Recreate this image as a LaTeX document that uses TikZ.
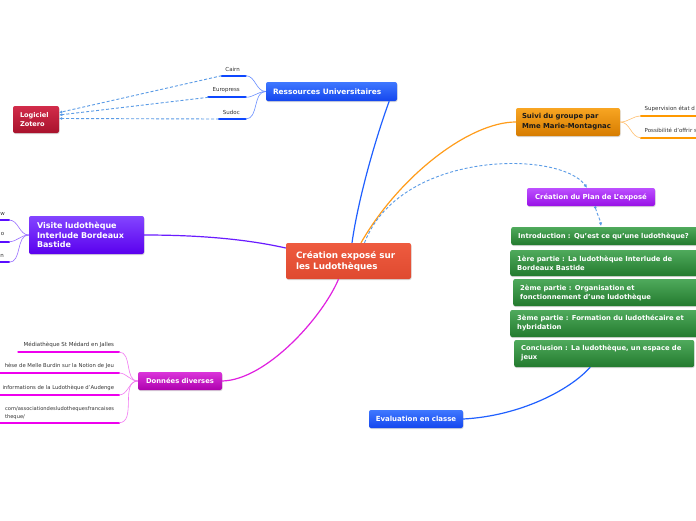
\documentclass[tikz,border=0pt]{standalone}
\usepackage{fontspec}
\setmainfont{DejaVu Sans}
\usetikzlibrary{shadows,arrows.meta}
\definecolor{cenT}{HTML}{EE5B3F}
\definecolor{cenB}{HTML}{DF4A30}
\definecolor{resT}{HTML}{3F78FF}
\definecolor{resB}{HTML}{1446EE}
\definecolor{zotT}{HTML}{D22C4A}
\definecolor{zotB}{HTML}{A8122C}
\definecolor{visT}{HTML}{8345FF}
\definecolor{visB}{HTML}{5A00EE}
\definecolor{donT}{HTML}{DA35DA}
\definecolor{donB}{HTML}{AE00AE}
\definecolor{suiT}{HTML}{F8A522}
\definecolor{suiB}{HTML}{D67C00}
\definecolor{suiText}{HTML}{1A1A1A}
\definecolor{plaT}{HTML}{BC50FF}
\definecolor{plaB}{HTML}{9810E6}
\definecolor{grnT}{HTML}{4FAA5C}
\definecolor{grnB}{HTML}{237A2E}
\definecolor{itemC}{HTML}{333333}
\definecolor{resLine}{HTML}{0D47FF}
\definecolor{resSub}{HTML}{6A8FFF}
\definecolor{visLine}{HTML}{5B0EFF}
\definecolor{visSub}{HTML}{9A70FF}
\definecolor{donLine}{HTML}{EE00EE}
\definecolor{donSub}{HTML}{F27AF2}
\definecolor{suiLine}{HTML}{FF9900}
\definecolor{suiSub}{HTML}{FFC070}
\definecolor{dashC}{HTML}{5A9BE6}
\definecolor{mainRes}{HTML}{2060FF}
\definecolor{mainVis}{HTML}{6A1CFF}
\definecolor{mainDon}{HTML}{E020E0}
\definecolor{mainSui}{HTML}{FF9C1A}
\newcommand\fsz[2]{\fontsize{#1}{#2}\selectfont}
\tikzset{
  box/.style={rounded corners=2pt, inner ysep=0pt, align=left, text=white,
    drop shadow={opacity=0.3, shadow xshift=0.5pt, shadow yshift=-1pt}},
  grn/.style={box, top color=grnT, bottom color=grnB, anchor=west, text width=178pt,
    inner xsep=7pt, font=\bfseries\fsz{6.8}{9}},
  item/.style={inner sep=0pt, text=itemC, font=\fsz{5.5}{8.5}},
  smallitem/.style={item, font=\fsz{5.3}{8.5}},
  uline/.style={line width=2.2pt, line cap=round},
  mainline/.style={line width=1.2pt},
  subline/.style={line width=0.6pt},
  dlink/.style={dash pattern=on 3pt off 2pt, line width=0.9pt, color=dashC},
}
\begin{document}
\begin{tikzpicture}[x=1pt,y=-1pt]
\fill[white] (0,0) rectangle (696,520);
\useasboundingbox (0,0) rectangle (696,520);

% main nodes
\node[box, top color=cenT, bottom color=cenB, text width=105pt, inner xsep=10pt,
  minimum height=36pt, font=\bfseries\fsz{8.8}{11}] (cen) at (348.5,261)
  {Création exposé sur\\les Ludothèques};
\node[box, top color=resT, bottom color=resB, text width=117pt, inner xsep=7pt,
  minimum height=19pt, font=\bfseries\fsz{7.4}{9}] (res) at (331.5,91.5)
  {Ressources Universitaires};
\node[box, top color=zotT, bottom color=zotB, text width=32pt, inner xsep=7pt,
  minimum height=27pt, font=\bfseries\fsz{6.6}{9}] (zot) at (36,119.5)
  {Logiciel\\Zotero};
\node[box, top color=visT, bottom color=visB, text width=99pt, inner xsep=8pt,
  minimum height=38pt, font=\bfseries\fsz{8}{9.5}] (vis) at (86.5,235)
  {Visite ludothèque\\Interlude Bordeaux\\Bastide};
\node[box, top color=donT, bottom color=donB, text width=74pt, inner xsep=5pt,
  minimum height=18pt, font=\bfseries\fsz{6.8}{9}, align=center] (don) at (180,381)
  {Données diverses};
\node[box, top color=suiT, bottom color=suiB, text=suiText, text width=92pt, inner xsep=6pt,
  minimum height=28pt, font=\bfseries\fsz{6.9}{10}] (sui) at (568,122)
  {Suivi du groupe par\\Mme Marie-Montagnac};
\node[box, top color=plaT, bottom color=plaB, text width=118pt, inner xsep=5pt,
  minimum height=18pt, font=\bfseries\fsz{6.9}{9}, align=center] (pla) at (591,197)
  {Création du Plan de L'exposé};
\node[grn, minimum height=18pt] (intro) at (511,236)
  {Introduction : Qu'est ce qu'une ludothèque?};
\node[grn, minimum height=26pt] (p1) at (510,263)
  {1ère partie : La ludothèque Interlude de\\Bordeaux Bastide};
\node[grn, minimum height=27pt] (p2) at (513,292.5)
  {2ème partie : Organisation et\\fonctionnement d'une ludothèque};
\node[grn, minimum height=27pt] (p3) at (510,323.5)
  {3ème partie : Formation du ludothécaire et\\hybridation};
\node[grn, minimum height=27pt, text width=166pt] (conc) at (514,353.5)
  {Conclusion : La ludothèque, un espace de\\jeux};
\node[box, top color=resT, bottom color=resB, text width=88pt, inner xsep=3pt,
  minimum height=18pt, font=\bfseries\fsz{7}{9}, align=center] (eva) at (416,419)
  {Evaluation en classe};

% main connectors
\draw[mainline, mainRes] ([xshift=-8pt]res.south east) .. controls (375,140) and (358,200) .. ([xshift=3.5pt]cen.north);
\draw[mainline, mainSui] ([xshift=12.5pt]cen.north) .. controls (400,175) and (470,122) .. (sui.west);
\draw[dlink, -{Latex[length=3.5pt,width=3.5pt]}] ([xshift=16pt]cen.north) .. controls (400,150) and (560,150) .. ([xshift=-4pt]pla.north);
\draw[dlink, {Circle[length=2.5pt]}-{Latex[length=3.5pt,width=3.5pt]}] ([xshift=4pt]pla.south) .. controls (597,214) and (600,219) .. (601,226);
\draw[mainline, mainVis] (vis.east) .. controls (205,235) and (250,240) .. ([yshift=13pt]cen.west);
\draw[mainline, mainDon] ([xshift=-10pt]cen.south) .. controls (322,318) and (266,380) .. (don.east);
\draw[mainline, mainRes] (eva.east) .. controls (520,416) and (570,390) .. ([xshift=-14pt]conc.south);

% Ressources children
\node[item, anchor=east] (cairn) at (240,69) {Cairn};
\node[item, anchor=east] (europ) at (240,90.3) {Europress};
\node[item, anchor=east] (sudoc) at (240,112) {Sudoc};
\coordinate (cairnL) at (221.7,75.7); \coordinate (cairnR) at (245.7,75.7);
\coordinate (europL) at (208.3,97.3); \coordinate (europR) at (245.7,97.3);
\coordinate (sudocL) at (219,119); \coordinate (sudocR) at (245.7,119);
\foreach \n in {cairn,europ,sudoc}{
  \draw[uline, resLine] (\n L) -- (\n R);
  \draw[subline, resSub] (\n R) to[out=0,in=180] (res.west);
}
\draw[dlink, -{Latex[length=3pt,width=3pt]}] (cairnL) -- ([yshift=7pt]zot.east);
\draw[dlink, -{Latex[length=3pt,width=3pt]}] (europL) -- ([yshift=4.5pt]zot.east);
\draw[dlink, -{Latex[length=3pt,width=3pt]}] (sudocL) -- ([yshift=1pt]zot.east);

% Visite children
\node[item, anchor=east] (vw) at (5,214) {w};
\node[item, anchor=east] (vo) at (4.5,234.3) {o};
\node[item, anchor=east] (vn) at (4,256.3) {n};
\coordinate (vwL) at (-5,220); \coordinate (vwR) at (9,220);
\coordinate (voL) at (-5,241.7); \coordinate (voR) at (9,241.7);
\coordinate (vnL) at (-5,262.3); \coordinate (vnR) at (9,262.3);
\foreach \n in {vw,vo,vn}{
  \draw[uline, visLine] (\n L) -- (\n R);
  \draw[subline, visSub] (\n R) to[out=0,in=180] (vis.west);
}

% Données children
\node[item, anchor=east] (d1) at (114.3,345) {Médiathèque St Médard en Jalles};
\node[smallitem, anchor=east] (d2) at (114.3,365.7) {hèse de Melle Burdin sur la Notion de Jeu};
\node[smallitem, anchor=east] (d3) at (114.3,388) {informations de la Ludothèque d'Audenge};
\node[smallitem, anchor=east, align=left, font=\fsz{5.15}{8.5}] (d4) at (114.3,413) {com/associationdesludothequesfrancaises\\theque/};
\coordinate (d1L) at (18.3,352); \coordinate (d1R) at (119,352);
\coordinate (d2L) at (-5,373); \coordinate (d2R) at (119,373);
\coordinate (d3L) at (-5,395); \coordinate (d3R) at (119,395);
\coordinate (d4L) at (-5,422.7); \coordinate (d4R) at (119,422.7);
\foreach \n in {d1,d2,d3,d4}{
  \draw[uline, donLine] (\n L) -- (\n R);
  \draw[subline, donSub] (\n R) to[out=0,in=180] (don.west);
}

% Suivi children
\node[item, anchor=west] (s1) at (644.5,109) {Supervision état d};
\node[item, anchor=west] (s2) at (644.5,130.7) {Possibilité d'offrir s};
\coordinate (s1L) at (641,116); \coordinate (s1R) at (705,116);
\coordinate (s2L) at (641,137.7); \coordinate (s2R) at (705,137.7);
\foreach \n in {s1,s2}{
  \draw[uline, suiLine] (\n L) -- (\n R);
  \draw[subline, suiSub] (sui.east) to[out=0,in=180] (\n L);
}
\end{tikzpicture}
\end{document}
